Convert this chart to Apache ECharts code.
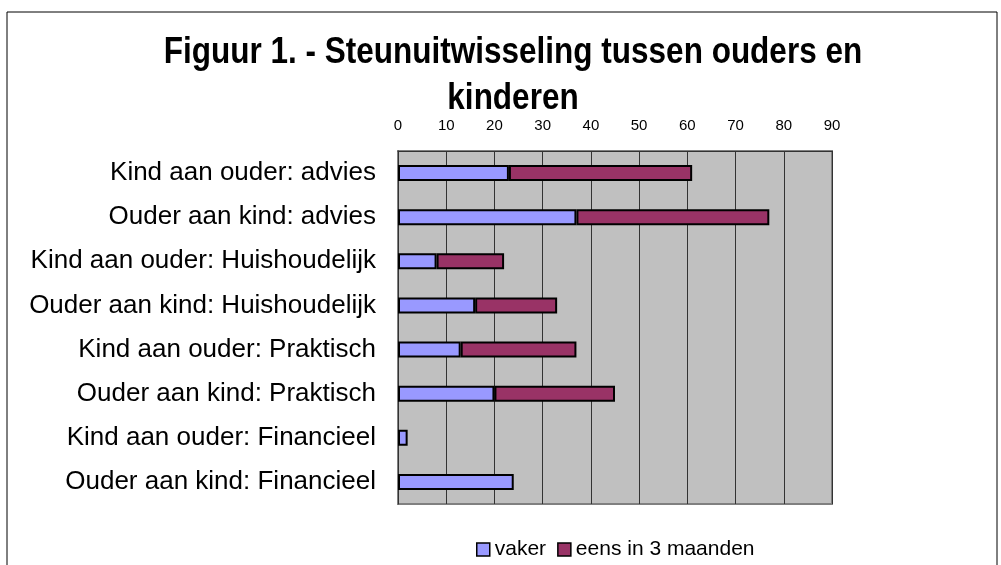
<!DOCTYPE html>
<html>
<head>
<meta charset="utf-8">
<script src="https://cdn.jsdelivr.net/npm/echarts@6/dist/echarts.min.js"></script>
<style>
  html, body { margin: 0; padding: 0; background: #fff; }
  #chart { width: 1001px; height: 565px; }
</style>
</head>
<body>
<div id="chart"></div>
<script>
// categories, top to bottom
var categories = [
  'Kind aan ouder: advies',
  'Ouder aan kind: advies',
  'Kind aan ouder: Huishoudelijk',
  'Ouder aan kind: Huishoudelijk',
  'Kind aan ouder: Praktisch',
  'Ouder aan kind: Praktisch',
  'Kind aan ouder: Financieel',
  'Ouder aan kind: Financieel'
];
var vaker = [23, 37, 8, 16, 13, 20, 2, 24];
var eensIn3Maanden = [38, 40, 14, 17, 24, 25, 0, 0];
var seriesNames = ['vaker', 'eens in 3 maanden'];
var xTicks = { min: 0, max: 90, interval: 10 };

var font = '"Liberation Sans", Arial, sans-serif';
var myChart = echarts.init(document.getElementById('chart'));

myChart.setOption({
  animation: false,
  backgroundColor: '#fff',
  textStyle: { fontFamily: font },
  graphic: [
    {
      type: 'rect',
      silent: true,
      shape: { x: 7, y: 12, width: 990, height: 600 },
      style: { fill: null, stroke: '#000', lineWidth: 1 }
    },
    {
      // title glyphs in the original are narrow, so squeeze it a bit
      type: 'text',
      silent: true,
      x: 513,
      y: 30,
      scaleX: 0.875,
      style: {
        text: 'Figuur 1. - Steunuitwisseling tussen ouders en\nkinderen',
        x: 0, y: 0,
        textAlign: 'center',
        textVerticalAlign: 'top',
        font: 'bold 36px ' + font,
        lineHeight: 46,
        fill: '#000'
      }
    }
  ],
  legend: {
    left: 471,
    top: 534,
    icon: 'rect',
    itemWidth: 13,
    itemHeight: 13,
    itemGap: 11,
    textStyle: { fontSize: 21, color: '#000', fontFamily: font },
    itemStyle: { borderColor: '#000', borderWidth: 1.5 },
    data: seriesNames
  },
  grid: {
    left: 398,
    right: 169,
    top: 151,
    bottom: 61,
    show: true,
    backgroundColor: '#c0c0c0',
    borderColor: '#808080',
    borderWidth: 2
  },
  xAxis: {
    type: 'value',
    position: 'top',
    min: xTicks.min,
    max: xTicks.max,
    interval: xTicks.interval,
    axisLine: { show: true, lineStyle: { color: '#333', width: 1 } },
    axisTick: { show: false },
    axisLabel: { fontSize: 15, color: '#000', margin: 18, fontFamily: font },
    splitLine: { show: true, lineStyle: { color: '#333', width: 1 } }
  },
  yAxis: {
    type: 'category',
    inverse: true,
    data: categories,
    axisLine: { show: true, lineStyle: { color: '#333', width: 1 } },
    axisTick: { show: false },
    axisLabel: { fontSize: 26, color: '#000', margin: 22, fontFamily: font }
  },
  series: [
    {
      name: seriesNames[0],
      type: 'bar',
      stack: 'total',
      barWidth: 16,
      itemStyle: { color: '#9999ff', borderColor: '#000', borderWidth: 2 },
      data: vaker
    },
    {
      name: seriesNames[1],
      type: 'bar',
      stack: 'total',
      barWidth: 16,
      itemStyle: { color: '#993366', borderColor: '#000', borderWidth: 2 },
      data: eensIn3Maanden.map(function (v) { return v === 0 ? null : v; })
    }
  ]
});
</script>
</body>
</html>
